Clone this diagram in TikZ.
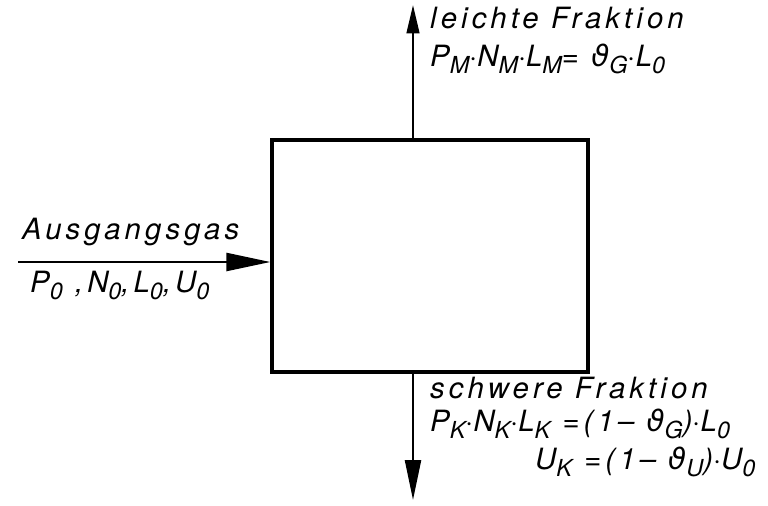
\documentclass[tikz,border=0pt]{standalone}
\usepackage{fontspec}
\setmainfont{TeX Gyre Heros}[LetterSpace=14]
\newfontfamily\greekfont{DejaVu Sans}
\usetikzlibrary{arrows.meta, positioning}
\newcommand{\thet}{{\greekfont\itshape ϑ}}
\newcommand{\sub}[1]{\raisebox{-0.26em}{\fontsize{20}{22}\selectfont #1}}

\begin{document}
\begin{tikzpicture}[
    x=0.03cm, y=-0.03cm,
    lbl/.style={anchor=base west, inner sep=0pt, font=\fontsize{25}{28}\selectfont\itshape},
    arr/.style={line width=2pt},
]
\useasboundingbox (0,0) rectangle (768,505);
\node[draw, line width=2.8pt, minimum width=9.48cm, minimum height=6.96cm] (box) at (430,256) {};
\coordinate (feed) at (18,262);
\coordinate (light) at (413,5);
\coordinate (heavy) at (413,500);

\draw[arr, -{Triangle[length=1.32cm, width=0.54cm]}] (feed) -- (feed -| box.west);
\draw[arr, -{Triangle[length=0.85cm, width=0.38cm]}] (box.north -| light) -- (light);
\draw[arr, -{Triangle[length=1.2cm, width=0.48cm]}] (box.south -| heavy) -- (heavy);

% labels
\node[lbl] (lighttxt) at (430,28) {leichte Fraktion};
\node[lbl] (lighteq) at (430,66) {P\sub{M}$\cdot$N\sub{M}$\cdot$L\sub{M}= \thet\sub{G}$\cdot$L\sub{0}};
\node[lbl] (feedtxt) at (22,239) {Ausgangsgas};
\node[lbl] (feedeq) at (30,292) {P\sub{0} ,N\sub{0},L\sub{0},U\sub{0}};
\node[lbl] (heavytxt) at (430,398) {schwere Fraktion};
\node[lbl] (heavyeq) at (430,431) {P\sub{K}$\cdot$N\sub{K}$\cdot$L\sub{K} =(1– \thet\sub{G})$\cdot$L\sub{0}};
\node[lbl] (heavyeqb) at (535,469) {U\sub{K} =(1– \thet\sub{U})$\cdot$U\sub{0}};
\end{tikzpicture}
\end{document}
